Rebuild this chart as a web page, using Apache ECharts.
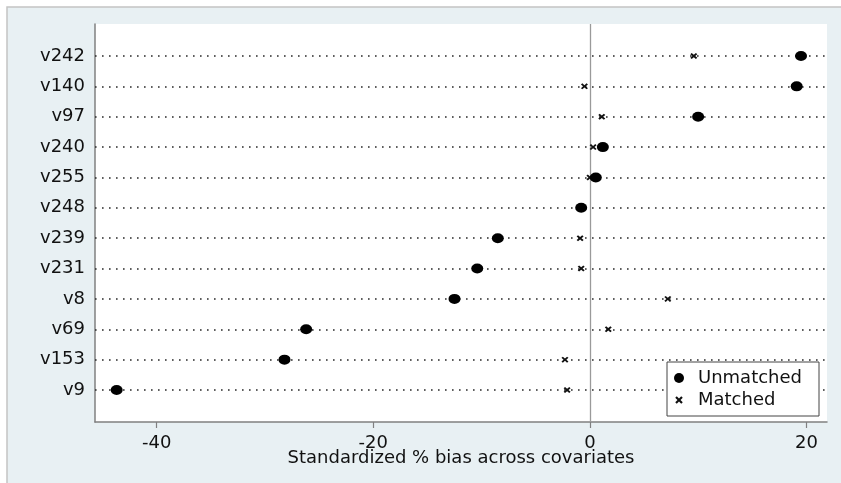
<!DOCTYPE html>
<html>
<head>
<meta charset="utf-8">
<script src="https://cdn.jsdelivr.net/npm/echarts@6/dist/echarts.min.js"></script>
<style>
  html, body { margin: 0; padding: 0; background: #ffffff; }
  #chart { width: 841px; height: 483px; }
</style>
</head>
<body>
<div id="chart"></div>
<script>
// Covariates, listed top to bottom
const categories = ['v242', 'v140', 'v97', 'v240', 'v255', 'v248', 'v239', 'v231', 'v8', 'v69', 'v153', 'v9'];
// Standardized % bias before matching
const unmatched = [19.5, 19.1, 10.0, 1.2, 0.55, -0.8, -8.5, -10.4, -12.5, -26.2, -28.2, -43.7];
// Standardized % bias after matching
const matched = [9.6, -0.5, 1.1, 0.3, 0.0, -0.7, -0.9, -0.8, 7.2, 1.7, -2.3, -2.1];
// Tick values on the bias axis
const xTicks = [-40, -20, 0, 20];

const font = 'DejaVu Sans';
const crossPath = 'path://M0,2L2,0L5,3L8,0L10,2L7,5L10,8L8,10L5,7L2,10L0,8L3,5Z';
// Same cross with empty margins so the legend icon stays small
const crossIcon = 'path://M-3,-1L-3,-1Z M13,11L13,11Z M0,2L2,0L5,3L8,0L10,2L7,5L10,8L8,10L5,7L2,10L0,8L3,5Z';
const rowIdx = categories.map((_, i) => i);

const chart = echarts.init(document.getElementById('chart'), null, { renderer: 'canvas' });

chart.setOption({
  animation: false,
  backgroundColor: '#ffffff',
  textStyle: { fontFamily: font },
  graphic: [
    {
      type: 'rect', z: -10, silent: true,
      shape: { x: 7, y: 7, width: 840, height: 480 },
      style: { fill: '#e8f0f3', stroke: '#c4c4c4', lineWidth: 1.5 }
    }
  ],
  grid: {
    left: 95, top: 24, right: 14, bottom: 61,
    show: true, backgroundColor: '#ffffff', borderWidth: 0
  },
  xAxis: {
    type: 'value',
    min: -45.7, max: 21.9,
    splitLine: { show: false },
    axisLine: { show: true, onZero: false, lineStyle: { color: '#808080', width: 1.5 } },
    axisTick: { show: true, customValues: xTicks, length: 6, lineStyle: { color: '#808080', width: 1.2 } },
    axisLabel: { customValues: xTicks, fontSize: 18, color: '#111111', margin: 12, fontFamily: font },
    name: 'Standardized % bias across covariates',
    nameLocation: 'middle',
    nameGap: 27,
    nameMoveOverlap: false,
    nameTextStyle: { fontSize: 18, color: '#111111', fontFamily: font }
  },
  yAxis: {
    type: 'value',
    inverse: true,
    min: -1.054, max: 12.054,
    splitLine: { show: false },
    axisLine: { show: true, onZero: false, lineStyle: { color: '#808080', width: 1.5 } },
    axisTick: { show: false },
    axisLabel: {
      customValues: rowIdx,
      fontSize: 18, color: '#111111', margin: 10, fontFamily: font,
      formatter: v => categories[Math.round(v)]
    }
  },
  legend: {
    orient: 'vertical',
    left: 667, top: 362,
    backgroundColor: '#ffffff',
    borderColor: '#444444', borderWidth: 1, borderRadius: 0,
    padding: [7, 17, 7, 6],
    itemGap: 4,
    itemWidth: 12, itemHeight: 10,
    textStyle: { fontSize: 18, lineHeight: 18, color: '#111111', fontFamily: font, padding: [0, 0, 0, 8] },
    data: [
      { name: 'Unmatched', icon: 'circle' },
      { name: 'Matched', icon: crossIcon }
    ]
  },
  series: [
    {
      name: 'Unmatched',
      type: 'scatter',
      symbol: 'circle',
      symbolSize: [12, 10],
      itemStyle: { color: '#000000', opacity: 1 },
      z: 5,
      data: unmatched.map((v, i) => [v, i]),
      markLine: {
        silent: true,
        symbol: 'none',
        label: { show: false },
        z: 1,
        data: rowIdx.map(i => ({
          yAxis: i,
          lineStyle: { type: [1.6, 5.4], color: '#2a2a2a', width: 1.6 }
        })).concat([{
          xAxis: 0,
          lineStyle: { type: 'solid', color: '#9a9a9a', width: 1.3 }
        }])
      }
    },
    {
      name: 'Matched',
      type: 'scatter',
      symbol: crossPath,
      symbolSize: [7, 6],
      itemStyle: { color: '#111111', opacity: 1 },
      z: 4,
      data: matched.map((v, i) => [v, i])
    }
  ]
});
</script>
</body>
</html>
